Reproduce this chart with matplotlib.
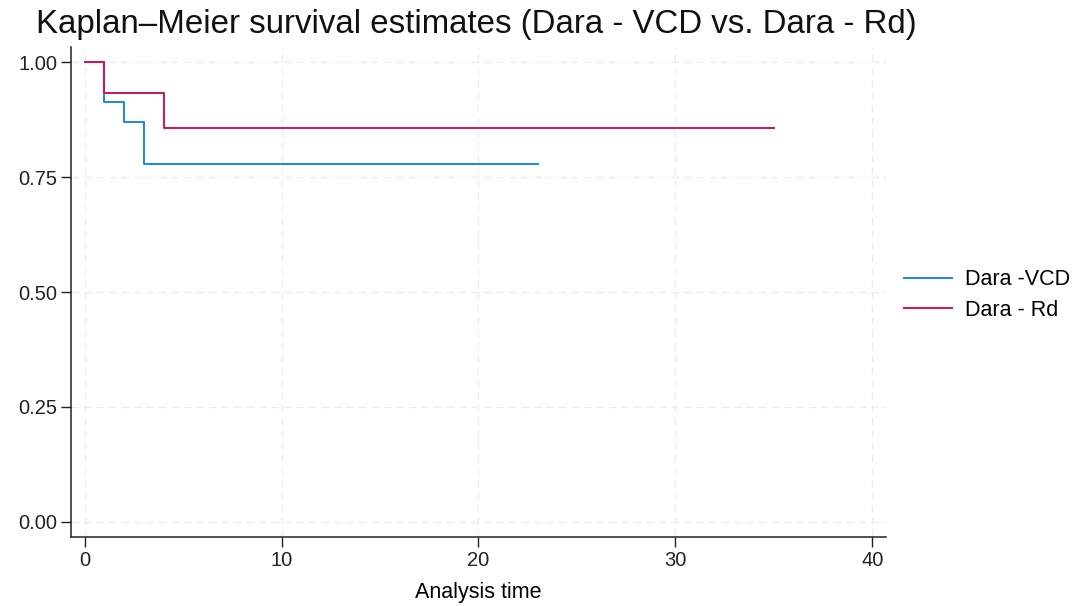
import numpy as np
import matplotlib
matplotlib.use("Agg")
import matplotlib.pyplot as plt

plt.rcParams['font.family'] = ['Liberation Sans', 'DejaVu Sans']

# Kaplan-Meier step data (time, survival)
vcd_time = [0, 1, 2, 3, 23]
vcd_surv = [1.000, 0.913, 0.870, 0.778, 0.778]
rd_time = [0, 1, 4, 35]
rd_surv = [1.000, 0.933, 0.857, 0.857]

x_ticks = [0, 10, 20, 30, 40]
y_ticks = [0.00, 0.25, 0.50, 0.75, 1.00]

fig = plt.figure(figsize=(10.88, 6.06), dpi=100)
ax = fig.add_axes([71 / 1088, 1 - 537 / 606, (886 - 71) / 1088, (537 - 47) / 606])

ax.step(vcd_time, vcd_surv, where='post', color='#1A85FF', lw=1.4, label='Dara -VCD')
ax.step(rd_time, rd_surv, where='post', color='#D41159', lw=1.4, label='Dara - Rd')

ax.set_xlim(-0.7, 40.7)
ax.set_ylim(-0.033, 1.033)
ax.set_xticks(x_ticks)
ax.set_yticks(y_ticks)
ax.set_yticklabels([f'{v:.2f}' for v in y_ticks])
ax.tick_params(labelsize=14.5, length=7, width=1, colors='#222222', pad=3)
ax.grid(True, ls=(0, (6, 4)), color='#ececec', lw=0.9)
ax.set_axisbelow(True)
for s in ['top', 'right']:
    ax.spines[s].set_visible(False)
for s in ['left', 'bottom']:
    ax.spines[s].set_color('#222222')
    ax.spines[s].set_linewidth(1.1)

ax.set_xlabel('Analysis time', fontsize=15.5, labelpad=9)
fig.text(36 / 1088, 1 - 25 / 606, 'Kaplan\u2013Meier survival estimates (Dara - VCD vs. Dara - Rd)',
         fontsize=23.8, va='center', ha='left', color='#111111')

ax.legend(loc='center left', bbox_to_anchor=(1.0, 0.494), frameon=False, fontsize=15.5,
          handlelength=2.2, handletextpad=0.6, labelspacing=0.45, borderaxespad=0.45)

fig.savefig('out.png', dpi=100, facecolor='white')
